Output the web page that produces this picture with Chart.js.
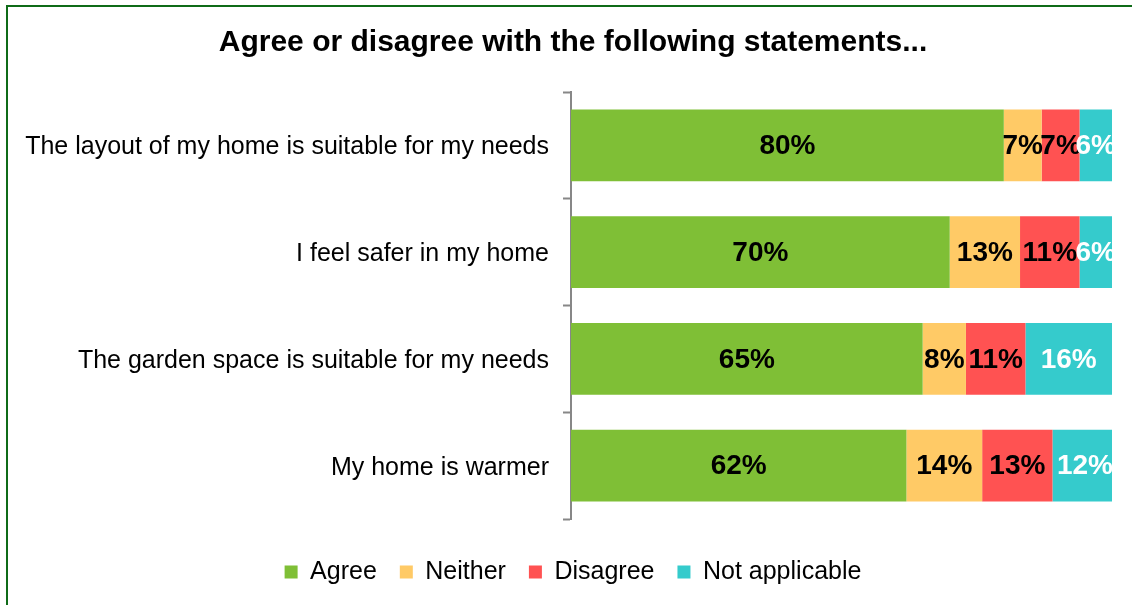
<!DOCTYPE html>
<html>
<head>
<meta charset="utf-8">
<script src="https://cdn.jsdelivr.net/npm/chart.js@4.4.0/dist/chart.umd.min.js"></script>
<style>
    html, body { margin: 0; padding: 0; background: #fff; overflow: hidden; }
    #wrap { position: relative; width: 1132px; height: 605px; }
    #frame {
        position: absolute; left: 6px; top: 5px; width: 1300px; height: 800px;
        border-left: 2px solid #0f6b18; border-top: 2px solid #0f6b18;
        pointer-events: none;
    }
</style>
</head>
<body>
<div id="wrap">
    <canvas id="surveyChart" width="1132" height="605"></canvas>
    <div id="frame"></div>
</div>
<script>
const statements = [
    'The layout of my home is suitable for my needs',
    'I feel safer in my home',
    'The garden space is suitable for my needs',
    'My home is warmer'
];
const agree = [80, 70, 65, 62];
const neither = [7, 13, 8, 14];
const disagree = [7, 11, 11, 13];
const notApplicable = [6, 6, 16, 12];

const FONT = "'Liberation Sans', Arial, sans-serif";

// percentage labels centred in each segment, clipped to the plot area
const segmentLabels = {
    id: 'segmentLabels',
    afterDatasetsDraw(chart) {
        const ctx = chart.ctx;
        const area = chart.chartArea;
        ctx.save();
        ctx.beginPath();
        ctx.rect(area.left, area.top, area.right - area.left, area.bottom - area.top);
        ctx.clip();
        ctx.font = 'bold 28px ' + FONT;
        ctx.textAlign = 'center';
        ctx.textBaseline = 'middle';
        chart.data.datasets.forEach((ds, i) => {
            const meta = chart.getDatasetMeta(i);
            ctx.fillStyle = ds.labelColor;
            meta.data.forEach((bar, j) => {
                const cx = (bar.x + bar.base) / 2;
                ctx.fillText(ds.data[j] + '%', cx, bar.y + 1);
            });
        });
        ctx.restore();
    }
};

let chart = new Chart(document.getElementById('surveyChart').getContext('2d'), {
    type: 'bar',
    data: {
        labels: statements,
        datasets: [
            { label: 'Agree', data: agree, backgroundColor: '#7fbf36', labelColor: '#000' },
            { label: 'Neither', data: neither, backgroundColor: '#ffca66', labelColor: '#000' },
            { label: 'Disagree', data: disagree, backgroundColor: '#ff5252', labelColor: '#000' },
            { label: 'Not applicable', data: notApplicable, backgroundColor: '#35cbcc', labelColor: '#fff' }
        ]
    },
    options: {
        indexAxis: 'y',
        responsive: false,
        animation: false,
        datasets: {
            bar: { barPercentage: 0.673, categoryPercentage: 1 }
        },
        layout: {
            padding: { top: 8, left: 14, right: 0, bottom: 10.5 }
        },
        scales: {
            x: {
                stacked: true,
                min: 0,
                max: 100,
                grid: { display: false },
                border: { display: false },
                ticks: { display: false },
                // empty strip between the bars and the legend
                afterFit(scale) {
                    scale.height = 17.5;
                }
            },
            y: {
                stacked: true,
                grid: {
                    offset: true,
                    drawOnChartArea: false,
                    drawTicks: true,
                    tickLength: 8,
                    tickColor: '#878787',
                    tickWidth: 2
                },
                border: { display: true, color: '#878787', width: 2 },
                ticks: {
                    color: '#000',
                    padding: 14,
                    labelOffset: 2,
                    font: { family: FONT, size: 25 }
                },
                afterFit(scale) {
                    scale.width = 557;
                }
            },
            // blank margin on the right of the bars
            yRight: {
                type: 'category',
                position: 'right',
                grid: { display: false },
                border: { display: false },
                ticks: { display: false },
                afterFit(scale) {
                    scale.width = 20;
                }
            }
        },
        plugins: {
            title: {
                display: true,
                text: 'Agree or disagree with the following statements...',
                color: '#000',
                font: { family: FONT, size: 30, weight: 'bold' },
                padding: { top: 17, bottom: 31 }
            },
            legend: {
                position: 'bottom',
                labels: {
                    color: '#000',
                    boxWidth: 13,
                    boxHeight: 13,
                    padding: 23,
                    font: { family: FONT, size: 25 }
                }
            },
            tooltip: { enabled: false }
        }
    },
    plugins: [segmentLabels]
});
</script>
</body>
</html>
